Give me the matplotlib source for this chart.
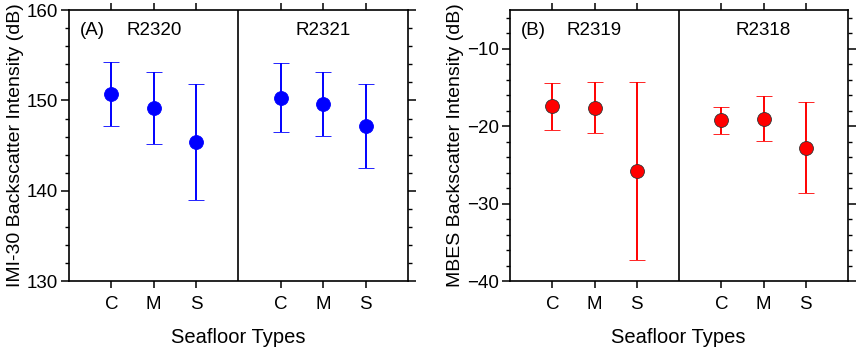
import matplotlib
matplotlib.use("Agg")
import matplotlib.pyplot as plt
from matplotlib.ticker import MultipleLocator

plt.rcParams["font.family"] = ["Liberation Sans", "DejaVu Sans"]

types = ["C", "M", "S"]

# Panel A: IMI-30
runs_a = ["R2320", "R2321"]
mean_a = [[150.7, 149.2, 145.4], [150.3, 149.6, 147.2]]
sd_a = [[3.55, 4.0, 6.45], [3.8, 3.55, 4.65]]

# Panel B: MBES
runs_b = ["R2319", "R2318"]
mean_b = [[-17.4, -17.6, -25.8], [-19.25, -19.0, -22.75]]
sd_b = [[3.05, 3.3, 11.5], [1.8, 2.9, 5.9]]

fig = plt.figure(figsize=(8.58, 3.5), dpi=100)
ax_a = fig.add_axes([0.0804, 0.197, 0.3951, 0.774])
ax_b = fig.add_axes([0.5944, 0.197, 0.394, 0.774])


def draw_panel(ax, runs, means, sds, color, edge, ylim, ylabel, letter):
    xs_all = []
    for k, run in enumerate(runs):
        xs = [1 + 4 * k + i for i in range(len(types))]
        xs_all += xs
        ax.errorbar(xs, means[k], yerr=sds[k], fmt="o", color=color,
                    ecolor=color, elinewidth=1.4, capsize=5.5, capthick=1.4,
                    markersize=10, markerfacecolor=color,
                    markeredgecolor=edge, markeredgewidth=0.6, zorder=3)
        ax.text(2 + 4 * k, ylim[1] - (ylim[1] - ylim[0]) * 0.075, run,
                ha="center", va="center", fontsize=13.5)
    ax.axvline(4, color="black", lw=1.2)
    ax.text(0.25, ylim[1] - (ylim[1] - ylim[0]) * 0.075, letter,
            ha="left", va="center", fontsize=13.5)
    ax.set_xlim(0, 8)
    ax.set_ylim(*ylim)
    ax.set_xticks(xs_all)
    ax.set_xticklabels(types * len(runs), fontsize=13.5)
    ax.yaxis.set_major_locator(MultipleLocator(10))
    ax.yaxis.set_minor_locator(MultipleLocator(2))
    ax.tick_params(axis="y", which="major", direction="out", length=6,
                   width=1.1, labelsize=13.5, right=True, pad=2)
    ax.tick_params(axis="y", which="minor", direction="out", length=3,
                   width=1.0, right=True)
    ax.tick_params(axis="x", which="major", direction="out", length=5,
                   width=1.1, top=True, pad=6)
    for sp in ax.spines.values():
        sp.set_linewidth(1.2)
    ax.set_ylabel(ylabel, fontsize=14, labelpad=2)


draw_panel(ax_a, runs_a, mean_a, sd_a, "#0000ff", "#0000ff", (130, 160),
           "IMI-30 Backscatter Intensity (dB)", "(A)")
draw_panel(ax_b, runs_b, mean_b, sd_b, "#ff0000", "#333333", (-40, -5),
           "MBES Backscatter Intensity (dB)", "(B)")

ax_b.set_yticks([-40, -30, -20, -10])
ax_b.set_yticklabels(["\u221240", "\u221230", "\u221220", "\u221210"])

fig.text(0.278, 0.008, "Seafloor Types", ha="center", va="bottom", fontsize=14.5)
fig.text(0.791, 0.008, "Seafloor Types", ha="center", va="bottom", fontsize=14.5)

fig.savefig("out.png", dpi=100)
